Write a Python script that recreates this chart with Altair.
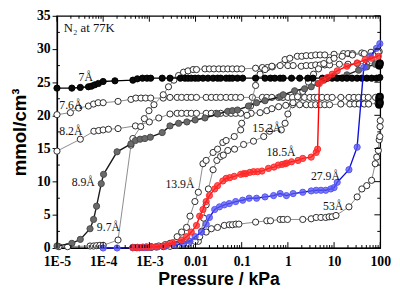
import altair as alt
import pandas as pd

# ---- data: (pressure / kPa, uptake / mmol cm^-3) ----
s_7A = [(1.0e-5, 24.1), (2.1e-5, 24.1), (3.2e-5, 24.2), (4.8e-5, 24.3), (5.6e-5, 24.4), (6.6e-5, 24.6),
        (7.9e-5, 24.8), (1.0e-4, 25.1), (1.8e-4, 25.2), (4.4e-4, 25.3), (5.5e-4, 25.5), (7.1e-4, 25.6),
        (8.9e-4, 25.6), (1.07e-3, 25.6), (1.9e-3, 25.6), (2.8e-3, 25.6), (4.7e-3, 25.6), (5.9e-3, 25.6),
        (6.9e-3, 25.6), (8.1e-3, 25.6), (9.8e-3, 25.6), (0.0115, 25.6), (0.0145, 25.6), (0.0186, 25.6),
        (0.024, 25.6), (0.030, 25.6), (0.035, 25.6), (0.046, 25.6), (0.054, 25.6), (0.063, 25.6),
        (0.081, 25.6), (0.105, 25.6), (0.20, 25.6), (0.32, 25.6), (0.42, 25.6), (0.52, 25.6), (0.68, 25.6),
        (0.79, 25.6), (1.2, 25.6), (1.8, 25.6), (2.7, 25.6), (3.5, 25.6), (5.6, 25.6), (7.2, 25.6),
        (9.1, 25.6), (11.7, 25.6), (15, 25.6), (19, 25.6), (24.5, 25.6), (31.6, 25.6), (40, 25.6),
        (51, 25.6), (65, 25.6), (83, 25.6), (98, 25.7)]

s_76A = [(1.0e-5, 20.1), (1.95e-5, 20.4), (2.95e-5, 21.1), (4.8e-5, 21.4), (6.2e-5, 21.7), (7.8e-5, 21.9),
         (1.0e-4, 21.9), (2.1e-4, 22.1), (4.0e-4, 22.4), (5.1e-4, 22.6), (6.6e-4, 22.6), (8.3e-4, 22.6),
         (1.07e-3, 22.6), (2.0e-3, 22.6), (2.8e-3, 22.7), (4.0e-3, 22.7), (5.0e-3, 22.7), (6.5e-3, 22.7),
         (8.1e-3, 22.7), (0.0105, 22.7), (0.017, 22.7), (0.022, 22.7), (0.028, 22.7), (0.035, 22.7),
         (0.046, 22.7), (0.059, 22.7), (0.074, 22.7), (0.095, 22.7), (0.17, 22.7), (0.28, 22.7),
         (0.35, 22.7), (0.45, 22.7), (0.63, 22.7), (0.78, 22.7), (1.0, 22.7), (1.26, 22.7), (1.8, 22.7),
         (2.3, 22.7), (3.0, 22.7), (3.7, 22.7), (4.4, 22.7), (5.5, 22.7), (7.1, 22.7), (9.1, 22.7),
         (14, 22.7), (21, 22.7), (27, 22.7), (34, 22.7), (44, 22.7), (55, 22.7), (79, 22.7), (93, 22.8)]

s_82A = [(1.0e-5, 14.6), (3.2e-5, 16.4), (6.3e-5, 17.6), (8.0e-5, 17.7), (1.0e-4, 17.8), (1.3e-4, 17.9),
         (2.1e-4, 18.0), (5.0e-4, 18.4), (1.0e-3, 19.0), (1.6e-3, 19.6), (2.8e-3, 20.2), (4.0e-3, 20.3),
         (5.0e-3, 20.3), (6.5e-3, 20.3), (8.1e-3, 20.3), (0.0105, 20.3), (0.017, 20.3), (0.022, 20.3),
         (0.028, 20.3), (0.035, 20.3), (0.046, 20.3), (0.059, 20.3), (0.074, 20.3), (0.095, 20.3),
         (0.16, 20.3), (0.25, 20.4), (0.35, 20.7), (0.45, 21.0), (0.63, 21.3), (0.9, 21.5), (1.26, 21.6),
         (1.8, 21.6), (2.5, 21.6), (3.2, 21.6), (4.0, 21.6), (5.0, 21.6), (6.3, 21.6), (8.0, 21.6),
         (14, 21.7), (22, 21.7), (28, 21.7), (35, 21.7), (45, 21.7), (56, 21.7), (89, 21.8)]

s_89A = [(1.0e-5, 0.3), (2.1e-5, 0.7), (3.2e-5, 1.3), (5.2e-5, 2.9), (6.2e-5, 4.3), (7.2e-5, 6.3),
         (9.1e-5, 9.7), (1.02e-4, 11.1), (2.0e-4, 14.5), (4.0e-4, 15.7), (5.0e-4, 16.2), (6.3e-4, 16.4),
         (8.0e-4, 16.5), (1.05e-3, 16.7), (1.9e-3, 17.4), (2.8e-3, 18.4), (4.3e-3, 18.8), (6.5e-3, 19.0),
         (9.8e-3, 19.3), (0.016, 19.6), (0.030, 20.2), (0.050, 20.6), (0.063, 20.7), (0.081, 20.8),
         (0.14, 21.4), (0.21, 21.9), (0.32, 22.2), (0.68, 22.8), (0.79, 23.1), (1.4, 23.7), (2.3, 24.0),
         (3.2, 24.3), (4.5, 24.8), (6.0, 25.3), (8.0, 25.7), (10, 25.9), (19, 26.1), (34, 26.8),
         (51, 27.3), (78, 27.7), (98, 27.9)]

s_97A = [(1.1e-5, 0.2), (1.7e-5, 0.2), (5.2e-5, 0.3), (6.2e-5, 0.3), (7.2e-5, 0.35), (8.5e-5, 0.4),
         (1.0e-4, 0.4), (2.1e-4, 1.2), (4.0e-4, 15.5), (4.4e-4, 16.5), (6.5e-4, 18.3), (7.8e-4, 19.5),
         (9.8e-4, 20.7), (1.26e-3, 21.6), (2.0e-3, 23.1), (2.6e-3, 24.3), (3.4e-3, 25.3), (4.3e-3, 26.0),
         (5.5e-3, 26.5), (6.9e-3, 26.7), (8.9e-3, 26.9), (0.0105, 26.9), (0.016, 27.0), (0.020, 27.0),
         (0.025, 27.0), (0.032, 27.0), (0.040, 27.0), (0.050, 27.0), (0.063, 27.0), (0.079, 27.0),
         (0.10, 27.0), (0.20, 27.1), (0.28, 27.2), (0.36, 27.2), (0.46, 27.3), (0.87, 28.4), (1.1, 28.6),
         (1.6, 28.9), (2.0, 28.9), (2.5, 29.0), (3.2, 29.0), (4.0, 29.1), (5.0, 29.1), (6.3, 29.1),
         (10, 29.2), (16, 29.3), (20, 29.3), (25, 29.3), (40, 29.4), (63, 29.5), (95, 29.6)]

s_139A = [(4.4e-4, 0.1), (5.5e-4, 0.1), (7.0e-4, 0.1), (8.5e-4, 0.15), (1.1e-3, 0.2), (1.6e-3, 0.3),
          (2.2e-3, 0.5), (2.8e-3, 0.7), (4.0e-3, 1.7), (5.0e-3, 2.4), (6.4e-3, 3.1), (7.6e-3, 4.8),
          (9.7e-3, 7.0), (0.0115, 8.4), (0.0145, 12.7), (0.017, 13.2), (0.024, 14.4), (0.030, 14.9),
          (0.039, 15.9), (0.046, 16.2), (0.069, 16.8), (0.095, 17.8), (0.10, 18.8), (0.13, 20.0),
          (0.155, 21.4), (0.20, 24.5), (0.25, 26.2), (0.32, 26.9), (0.45, 27.4), (0.68, 27.5), (1.0, 27.5),
          (1.3, 27.5), (1.95, 27.4), (2.5, 27.5), (3.2, 27.5), (4.0, 27.6), (5.0, 27.6), (6.3, 27.6),
          (8.0, 27.6), (13, 27.7), (20, 27.7), (32, 27.8), (50, 27.8), (80, 27.9)]

s_152A = [(1.1e-3, 0.1), (2.0e-3, 0.2), (4.0e-3, 0.4), (7.0e-3, 0.7), (0.0115, 1.0), (0.0135, 2.5),
          (0.015, 4.5), (0.017, 6.5), (0.019, 8.9), (0.024, 11.8), (0.029, 13.2), (0.035, 13.8),
          (0.040, 14.0), (0.050, 14.7), (0.070, 14.9), (0.11, 15.6), (0.18, 16.1), (0.30, 16.8),
          (0.40, 17.6), (0.72, 17.8), (0.87, 18.8), (1.0, 20.2), (1.29, 21.9), (1.62, 22.8), (2.1, 23.6),
          (2.8, 25.0), (3.6, 26.2), (4.6, 27.0), (6.0, 27.8), (8.0, 28.3), (10, 28.6), (15, 28.9),
          (25, 29.1), (45, 29.3), (90, 29.5)]

s_185A = [(4.4e-4, 0.05), (5.5e-4, 0.05), (7.0e-4, 0.1), (9.0e-4, 0.1), (1.1e-3, 0.15), (1.4e-3, 0.2),
          (2.0e-3, 0.3), (2.5e-3, 0.5), (3.2e-3, 0.8), (5.0e-3, 1.2), (6.4e-3, 1.7), (8.1e-3, 2.4),
          (0.0105, 3.4), (0.0123, 4.8), (0.0145, 5.8), (0.017, 7.0), (0.020, 7.9), (0.026, 8.9),
          (0.030, 9.4), (0.039, 10.1), (0.046, 10.5), (0.055, 10.6), (0.069, 10.8), (0.095, 11.1),
          (0.11, 11.2), (0.123, 11.2), (0.15, 11.4), (0.18, 11.5), (0.22, 11.5), (0.275, 11.6),
          (0.38, 12.0), (0.50, 12.2), (0.62, 12.5), (0.75, 12.6), (0.87, 12.7), (0.95, 12.8), (1.2, 13.0),
          (1.66, 13.2), (2.1, 13.5), (3.2, 13.7), (4.1, 14.4), (4.4, 14.9), (4.8, 24.8), (5.6, 25.3),
          (7.2, 25.7), (9.1, 26.2), (11.7, 26.7), (19, 27.4), (31.6, 27.9), (47, 28.4), (65, 28.6),
          (91, 28.9)]

s_279A = [(1.0e-4, 0.0), (2.0e-4, 0.0), (4.4e-4, 0.05), (6.0e-4, 0.05), (8.0e-4, 0.05), (1.0e-3, 0.1),
          (1.5e-3, 0.15), (2.2e-3, 0.25), (3.5e-3, 0.45), (5.5e-3, 0.7), (7.6e-3, 1.0), (9.8e-3, 1.7),
          (0.0135, 2.4), (0.017, 3.6), (0.020, 4.6), (0.026, 5.8), (0.033, 6.2), (0.042, 6.5),
          (0.054, 6.7), (0.074, 7.0), (0.105, 7.2), (0.145, 7.5), (0.21, 7.5), (0.32, 7.7), (0.49, 7.9),
          (0.68, 8.2), (0.93, 7.9), (1.3, 8.2), (2.1, 8.4), (3.2, 8.6), (4.1, 8.7), (5.2, 8.7), (6.6, 8.7),
          (8.5, 8.9), (10, 9.1), (11.7, 9.9), (21, 11.8), (31.6, 15.2), (44, 27.2), (60, 28.9),
          (83, 30.1), (98, 30.8)]

s_53A = [(4.4e-4, 0.05), (5.2e-4, 0.05), (6.2e-4, 0.05), (7.5e-4, 0.1), (9.0e-4, 0.1), (1.1e-3, 0.1),
         (1.4e-3, 0.15), (2.8e-3, 0.25), (5.5e-3, 0.6), (9.8e-3, 1.0), (0.0123, 1.7), (0.017, 2.4),
         (0.022, 2.9), (0.030, 3.1), (0.042, 3.4), (0.054, 3.5), (0.063, 3.5), (0.075, 3.6), (0.087, 3.6),
         (0.20, 3.9), (0.35, 4.1), (0.42, 4.1), (0.68, 4.3), (0.79, 4.3), (0.98, 4.3), (2.1, 4.3),
         (3.2, 4.4), (4.1, 4.6), (5.2, 4.6), (6.6, 4.6), (7.8, 4.7), (9.1, 4.7), (11, 4.9), (21, 6.2),
         (31.6, 7.7), (40, 8.9), (51, 9.4), (65, 10.2), (78, 12.7), (84, 13.7), (91, 14.7), (95, 16.3),
         (98, 16.8), (99, 18.3), (100, 19.2)]

# dark desorption points crowded at the high-pressure end
s_ends = [(95, 27.5), (98, 27.8), (95, 22.4), (98, 22.8), (95, 21.6), (98, 21.9)]

labels = [("N₂ at 77K", 1.4e-5, 33.2, "left", 13), ("7Å", 4.2e-5, 25.8, "center", 12),
          ("7.6Å", 2.0e-5, 21.6, "center", 12), ("8.2Å", 2.0e-5, 17.6, "center", 12),
          ("8.9Å", 3.7e-5, 10.0, "center", 12), ("9.7Å", 1.3e-4, 3.2, "center", 12),
          ("13.9Å", 4.6e-3, 9.7, "center", 12), ("15.2Å", 0.35, 18.0, "center", 12),
          ("18.5Å", 0.71, 14.4, "center", 12), ("27.9Å", 6.5, 10.8, "center", 12),
          ("53Å", 9.6, 6.3, "center", 12)]

x_major = [1e-5, 1e-4, 1e-3, 0.01, 0.1, 1, 10, 100]
x_minor = [m * 10.0 ** e for e in range(-5, 2) for m in range(2, 10)]
y_major = [0, 5, 10, 15, 20, 25, 30, 35]
y_minor = [2.5, 7.5, 12.5, 17.5, 22.5, 27.5, 32.5]

W, H = 330, 237
xs = alt.Scale(type="log", domain=[1e-5, 100], nice=False)
ys = alt.Scale(domain=[0, 35], nice=False)
common = dict(labelFont="Liberation Serif", labelFontWeight="bold", labelFontSize=14, labelColor="black",
              titleFont="Liberation Sans", titleFontWeight="bold", titleColor="black",
              domainColor="black", domainWidth=1.3, tickColor="black", grid=False,
              labelFlush=False, labelOverlap=False)
XAX = alt.Axis(values=x_major, ticks=False, labelPadding=7,
               labelExpr="datum.value < 0.005 ? '1E' + round(log(datum.value)/LN10) : '' + datum.value",
               title="Pressure / kPa", titlePadding=2, titleFontSize=18, **common)
YAX = alt.Axis(values=y_major, tickSize=5, labelPadding=2, title="mmol/cm³",
               titlePadding=7, titleFontSize=19, **common)


def X(field):
    return alt.X(field, scale=xs, axis=XAX, title="Pressure / kPa")


def Y(field):
    return alt.Y(field, scale=ys, axis=YAX, title="mmol/cm³")


# style per series: (data, line colour, line width, fill, stroke, fill opacity)
open_style = ("#8a8a8a", 1.0, "white", "#2a2a2a", 1.0)
styles = [
    (s_76A,) + open_style, (s_82A,) + open_style, (s_97A,) + open_style,
    (s_139A,) + open_style, (s_152A,) + open_style, (s_53A,) + open_style,
    (s_89A, "#1a1a1a", 1.4, "#6a6a6a", "#4a4a4a", 1.0),
    (s_7A, "#000000", 1.4, "#0a0a0a", "#000000", 1.0),
    (s_279A, "#1010d8", 1.4, "#5555f2", "#5555f2", 0.75),
    (s_185A, "#ff0000", 1.4, "#ff2a2a", "#ff2a2a", 0.75),
]

layers = []
for data, lc, lw, fill, stroke, fop in styles:
    df = pd.DataFrame(data, columns=["P", "Q"])
    base = alt.Chart(df).encode(x=X("P:Q"), y=Y("Q:Q"))
    layers.append(base.mark_line(color=lc, strokeWidth=lw))
    layers.append(base.mark_point(shape="circle", size=40, filled=True, fill=fill, stroke=stroke,
                                  strokeWidth=1.0, fillOpacity=fop, opacity=1))

ends = pd.DataFrame(s_ends, columns=["P", "Q"])
layers.append(alt.Chart(ends).mark_point(shape="circle", size=40, filled=True, fill="#111",
                                         stroke="#000", opacity=1).encode(x=X("P:Q"), y=Y("Q:Q")))


# inward frame ticks
def xticks(vals, y0, y1):
    return alt.Chart(pd.DataFrame({"v": vals})).mark_rule(color="black", strokeWidth=1).encode(
        x=X("v:Q"), y=alt.value(y0), y2=alt.value(y1))


def yticks(vals, x0, x1):
    return alt.Chart(pd.DataFrame({"v": vals})).mark_rule(color="black", strokeWidth=1).encode(
        y=Y("v:Q"), x=alt.value(x0), x2=alt.value(x1))


layers += [xticks(x_major, H, H - 6), xticks(x_minor, H, H - 3),
           xticks(x_major, 0, 6), xticks(x_minor, 0, 3),
           yticks(y_major, W, W - 6), yticks(y_minor, W, W - 3), yticks(y_minor, 0, 3)]

lab = pd.DataFrame(labels, columns=["t", "P", "Q", "a", "s"])
for a in ["left", "center"]:
    sub = lab[lab.a == a]
    for s in sorted(sub.s.unique()):
        d = sub[sub.s == s]
        layers.append(alt.Chart(d).mark_text(font="Liberation Serif", fontSize=int(s), align=a,
                                             baseline="middle", color="#111").encode(
            x=X("P:Q"), y=Y("Q:Q"), text="t:N"))

chart = alt.layer(*layers).properties(
    width=W, height=H,
    autosize=alt.AutoSizeParams(type="none"),
    padding={"left": 50, "top": 5, "right": 12, "bottom": 44},
).configure_view(stroke="black", strokeWidth=1.3)

chart.save("out.html", embed_options={"renderer": "svg", "actions": False})
